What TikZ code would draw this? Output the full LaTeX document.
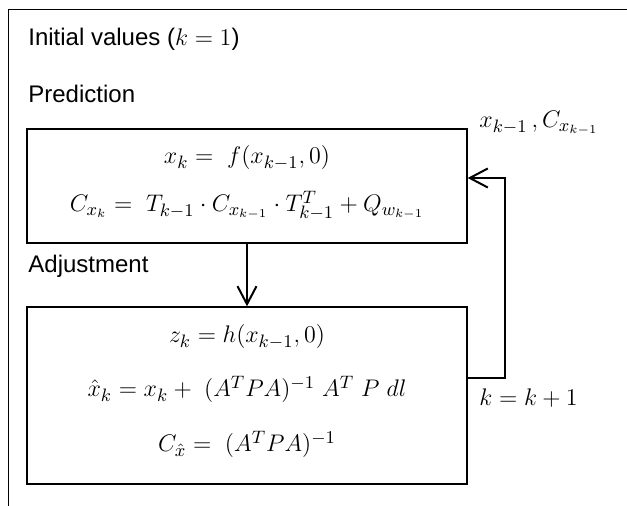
\documentclass[tikz,border=0pt]{standalone}
\usepackage[no-math]{fontspec}
\setmainfont{Liberation Sans}
\usetikzlibrary{arrows.meta}
\begin{document}
\begin{tikzpicture}[x=0.5pt,y=-0.5pt,
  every node/.style={font=\fontsize{12}{14}\selectfont, inner sep=0pt},
  box/.style={draw, line width=0.65pt, minimum width=220pt},
  conn/.style={line width=1pt, -{Straight Barb[length=9pt,width=9.5pt,line width=1pt]}},
  lbl/.style={anchor=base west},
  mlbl/.style={anchor=base west, font=\fontsize{12.7}{15}\selectfont},
  eq/.style={anchor=base, font=\fontsize{12.7}{15}\selectfont}]
\useasboundingbox (0,0) rectangle (627,506);
% outer frame (open at right and bottom)
\draw[line width=0.5pt] (627,10) -- (8,10) -- (8,506);
% section titles
\node[lbl] (tinit) at (28,46) {Initial values ($k = 1$)};
\node[lbl] (tpred) at (28,103) {Prediction};
\node[lbl] (tadj) at (28,273) {Adjustment};
% boxes
\node[box, minimum height=57pt] (pred) at (247,186) {};
\node[box, minimum height=88.5pt] (adj) at (247,395.5) {};
% equations
\node[eq] (e1) at (247,164) {$x_k =\ f(x_{k-1},0)$};
\node[eq] (e2) at (247,212) {$C_{x_k} =\ T_{k-1}\cdot C_{x_{k-1}}\cdot T_{k-1}^{T} + Q_{w_{k-1}}$};
\node[eq] (e3) at (247,343) {$z_k = h(x_{k-1},0)$};
\node[eq] (e4) at (247,397) {$\hat{x}_k = x_k +\ (A^{T}PA)^{-1}\ A^{T}\ P\ dl$};
\node[eq] (e5) at (247,452) {$C_{\hat{x}} =\ (A^{T}PA)^{-1}$};
% side labels
\node[mlbl] (l1) at (479,128) {$x_{k-1}\,,C_{x_{k-1}}$};
\node[mlbl] (l2) at (479,406) {$k = k + 1$};
% connectors
\draw[conn] (pred.south) -- (adj.north);
\coordinate (fbA) at (505,378);
\coordinate (fbB) at (505,178);
\draw[conn] (adj.east |- fbA) -- (fbA) -- (fbB) -- (pred.east |- fbB);
\end{tikzpicture}
\end{document}
